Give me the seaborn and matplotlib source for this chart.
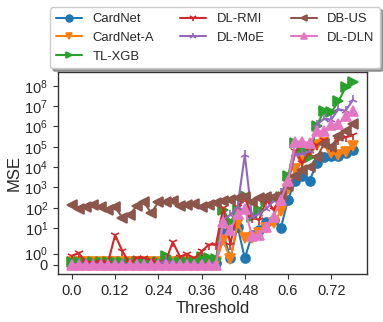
import numpy as np
import pandas as pd
import seaborn as sns
import matplotlib.pyplot as plt

# thresholds on the x axis
thresholds = [0.00, 0.02, 0.04, 0.06, 0.08, 0.10, 0.12, 0.14, 0.16, 0.18,
              0.20, 0.22, 0.24, 0.26, 0.28, 0.30, 0.32, 0.34, 0.36, 0.38,
              0.40, 0.42, 0.44, 0.46, 0.48, 0.50, 0.52, 0.54, 0.56, 0.58,
              0.60, 0.62, 0.64, 0.66, 0.68, 0.70, 0.72, 0.74, 0.76, 0.78]

cardnet = [0.2, 0.2, 0.2, 0.2, 0.2, 0.2, 0.2, 0.2, 0.2, 0.2,
           0.2, 0.2, 0.2, 0.2, 0.2, 0.2, 0.2, 0.2, 0.2, 0.2,
           0.2, 5.5, 0.6, 12, 0.6, 4.7, 8, 20, 26, 10,
           250, 2.2e3, 3.5e3, 2.2e3, 1.6e4, 3.0e4, 3.4e4, 3.6e4, 4.9e4, 7.1e4]
cardnet_a = [0.25, 0.25, 0.25, 0.25, 0.25, 0.25, 0.25, 0.25, 0.25, 0.25,
             0.25, 0.25, 0.25, 0.25, 0.25, 0.25, 0.25, 0.25, 0.25, 0.25,
             0.25, 2.5, 0.5, 18, 3.2, 3.2, 6, 10, 18, 70,
             800, 8e3, 1.9e4, 5.8e4, 1.26e5, 1.5e5, 5e4, 4e4, 5.8e4, 1.04e5]
tl_xgb = [0.3, 0.3, 0.3, 0.3, 0.3, 0.3, 0.3, 0.3, 0.3, 0.3,
          0.3, 0.3, 0.3, 0.8, 0.3, 0.3, 0.3, 0.3, 0.7, 0.6,
          0.5, 80, 20, 80, 400, 37, 80, 250, 280, 360,
          3.5e3, 1.5e5, 6.8e4, 3e4, 1.1e6, 6e6, 5e6, 1.7e7, 8.4e7, 1.6e8]
dl_rmi = [0.82, 1.04, 0.15, 0.15, 0.3, 0.2, 4.6, 1.24, 0.15, 0.65,
          0.6, 0.42, 0.2, 0.3, 2.1, 0.74, 0.95, 0.6, 1.2, 1.8,
          1.8, 100, 1.8, 110, 350, 31, 26, 250, 80, 360,
          1.6e3, 6e4, 1.6e4, 6e4, 1.2e5, 2.2e5, 1e5, 2.2e5, 3e5, 3.6e5]
dl_moe = [0.1, 0.1, 0.1, 0.1, 0.1, 0.1, 0.1, 0.1, 0.1, 0.1,
          0.1, 0.1, 0.1, 0.4, 0.1, 0.1, 0.1, 0.1, 0.1, 0.1,
          0.2, 26, 45, 116, 4e4, 35, 50, 90, 220, 530,
          2.4e3, 4.5e4, 4.5e4, 6e4, 1.2e6, 2.4e6, 2.2e6, 7e6, 6e6, 2e7]
db_us = [140, 90, 108, 140, 108, 74, 108, 33, 45, 125,
         200, 55, 190, 200, 210, 130, 140, 150, 116, 140,
         170, 205, 250, 300, 336, 200, 300, 336, 360, 440,
         1.2e3, 3.5e3, 7e3, 1e4, 3e4, 1.4e5, 1e5, 3.5e5, 6e5, 1.4e6]
dl_dln = [0.0, 0.0, 0.0, 0.0, 0.0, 0.0, 0.0, 0.0, 0.0, 0.0,
          0.0, 0.0, 0.0, 0.0, 0.0, 0.0, 0.0, 0.0, 0.0, 0.0,
          0.0, 20, 8, 50, 90, 4, 4.7, 12, 37, 250,
          2e3, 1.8e5, 1.8e5, 1.5e5, 5.7e5, 6e5, 1.2e6, 1.35e6, 3.1e6, 5.5e6]

methods = ['CardNet', 'CardNet-A', 'TL-XGB', 'DL-RMI', 'DL-MoE', 'DB-US', 'DL-DLN']
series = [cardnet, cardnet_a, tl_xgb, dl_rmi, dl_moe, db_us, dl_dln]
markers = ['o', 'v', '>', '1', '2', '<', '^']

xtick_vals = [0.0, 0.12, 0.24, 0.36, 0.48, 0.6, 0.72]
xtick_labels = ['0.0', '0.12', '0.24', '0.36', '0.48', '0.6', '0.72']
ytick_vals = [0, 1, 10, 100, 1e3, 1e4, 1e5, 1e6, 1e7, 1e8]
ytick_labels = ['0'] + [r'$\mathdefault{10^{%d}}$' % k for k in range(9)]

sns.set_style("ticks")
plt.rcParams['font.family'] = ['Liberation Sans', 'DejaVu Sans']
plt.rcParams['axes.edgecolor'] = '0.2'

palette = sns.color_palette("tab10", 7)

fig = plt.figure(figsize=(3.83, 3.22), dpi=100)
ax = fig.add_subplot(111)
fig.subplots_adjust(left=0.151, right=0.958, bottom=0.149, top=0.776)

for name, vals, mk, col in zip(methods, series, markers, palette):
    sns.lineplot(x=thresholds, y=vals, ax=ax, color=col, marker=mk, ms=6.5,
                 mec=col, mew=1.2, lw=1.5, label=name)

ax.set_yscale('symlog', linthresh=2)
ax.set_yticks(ytick_vals)
ax.set_yticklabels(ytick_labels)
ax.yaxis.set_minor_locator(plt.NullLocator())
ax.set_ylim(-0.8, 4.7e8)
ax.set_xticks(xtick_vals)
ax.set_xticklabels(xtick_labels)
ax.set_xlim(-0.039, 0.819)
ax.tick_params(labelsize=10.5, length=3.5, width=0.8, color='0.2')
ax.set_xlabel('Threshold', fontsize=12, labelpad=2)
ax.set_ylabel('MSE', fontsize=12, labelpad=2)
for s in ax.spines.values():
    s.set_linewidth(1.0)

ax.get_legend().remove()
h, l = ax.get_legend_handles_labels()
fig.legend(h, l, loc='upper center', bbox_to_anchor=(0.562, 0.998), ncol=3,
           fontsize=9.4, shadow=True, frameon=True, borderpad=0.45,
           labelspacing=0.5, handlelength=2.0, columnspacing=2.0,
           markerscale=0.75)

plt.savefig('out.png', dpi=100)
